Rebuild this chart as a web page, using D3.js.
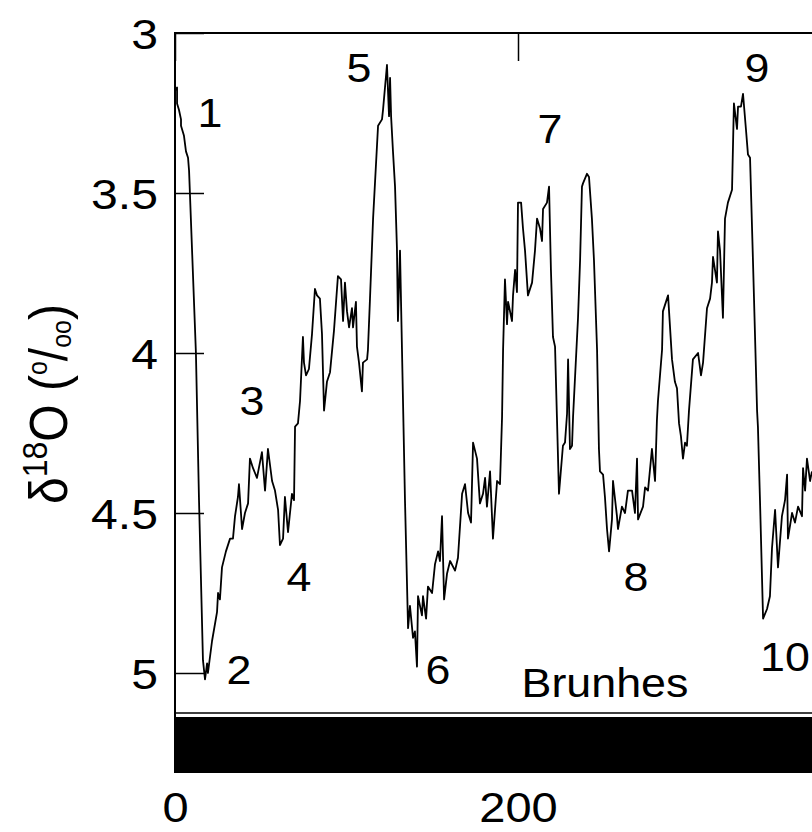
<!DOCTYPE html>
<html>
<head>
<meta charset="utf-8">
<script src="https://cdn.jsdelivr.net/npm/d3@7"></script>
<style>
  html, body { margin: 0; padding: 0; background: #fff; }
  svg { display: block; }
  text { font-family: "Liberation Sans", Arial, Helvetica, sans-serif; fill: #000; }
</style>
</head>
<body>
<svg id="chart" width="812" height="832"></svg>
<script>
// ---- data (age in ka, δ18O in per mil) ----
const ages = [0,1.2,1.2,2.3,3.5,3.5,5.2,6.4,7.6,8.2,12.2,14.0,16.3,17.5,18.7,19.2,21.6,24.5,25.1,26.2,27.4,29.7,32.1,33.8,35.0,36.7,37.3,39.1,40.8,42.6,43.7,45.5,47.8,50.7,52.5,54.2,56.6,58.3,60.1,61.2,63.0,64.1,65.9,68.2,69.4,70.0,71.7,72.9,74.6,75.2,76.4,78.1,79.9,81.6,82.8,84.5,85.7,86.9,88.6,90.4,92.7,95.0,96.8,98.0,99.1,100.3,101.5,103.2,103.8,105.5,106.1,107.3,109.0,109.6,112.0,112.5,113.7,115.5,118.4,120.7,121.3,123.6,124.8,125.4,126.0,127.1,128.3,129.4,130.0,131.2,134.1,135.9,137.0,138.8,139.9,141.1,141.7,144.0,144.6,146.4,147.5,149.9,151.6,153.4,154.5,155.7,156.9,158.6,160.4,163.3,165.0,167.4,169.1,170.9,172.6,173.8,176.1,177.8,179.6,180.8,181.9,183.7,185.4,187.8,189.5,190.7,191.3,192.4,193.6,194.2,196.5,197.1,198.3,199.4,200.0,201.8,202.9,204.1,205.8,208.2,209.9,211.1,212.8,214.0,214.6,216.9,218.1,219.2,220.4,221.6,222.7,223.9,226.2,227.4,228.6,229.2,230.3,231.5,232.1,235.0,236.2,237.3,237.9,240.2,241.4,243.1,244.3,246.1,247.2,247.8,249.6,250.7,251.9,253.1,254.8,255.4,257.7,258.3,260.6,262.4,264.1,266.5,268.2,269.4,270.0,272.9,274.1,275.8,278.1,279.9,281.0,281.6,284.0,284.5,287.5,289.8,291.5,292.7,293.9,295.0,296.2,297.4,298.5,299.7,302.0,305.0,306.7,307.9,310.2,312.0,313.1,313.7,316.0,316.6,317.8,319.5,320.7,322.4,324.8,325.9,327.7,328.3,330.0,331.2,332.9,334.1,335.3,337.0,339.4,339.9,341.1,342.9,345.2,346.9,348.1,349.9,351.6,353.9,355.7,356.9,357.4,359.8,361.5,363.3,365.6,366.2,367.4,368.5,370.3,371.4];
const d18O = [3.18,3.17,3.22,3.24,3.27,3.29,3.32,3.37,3.39,3.43,4.00,4.46,4.96,5.02,4.97,5.00,4.90,4.81,4.75,4.77,4.67,4.62,4.58,4.58,4.51,4.45,4.41,4.55,4.50,4.47,4.33,4.36,4.39,4.31,4.43,4.30,4.40,4.43,4.49,4.60,4.58,4.45,4.56,4.44,4.46,4.23,4.22,4.15,3.95,4.03,4.07,4.05,3.94,3.80,3.82,3.83,3.94,4.18,4.09,4.06,3.93,3.76,3.77,3.90,3.78,3.87,3.92,3.86,3.92,3.84,3.98,4.03,4.12,4.03,4.02,3.99,3.83,3.58,3.29,3.27,3.24,3.10,3.26,3.14,3.26,3.37,3.48,3.67,3.90,3.68,4.46,4.86,4.79,4.89,4.87,4.98,4.76,4.82,4.76,4.83,4.73,4.75,4.66,4.62,4.65,4.51,4.77,4.69,4.65,4.68,4.64,4.44,4.41,4.50,4.53,4.28,4.33,4.47,4.44,4.39,4.48,4.37,4.58,4.40,4.41,4.20,3.99,3.77,3.91,3.84,3.90,3.82,3.74,3.81,3.53,3.53,3.61,3.68,3.82,3.78,3.68,3.58,3.61,3.65,3.55,3.53,3.48,3.74,3.95,3.98,4.20,4.44,4.29,4.28,4.19,4.02,4.30,4.29,4.20,3.89,3.71,3.48,3.47,3.44,3.45,3.58,3.71,3.99,4.30,4.37,4.38,4.45,4.55,4.62,4.52,4.40,4.51,4.55,4.48,4.50,4.43,4.43,4.50,4.33,4.52,4.48,4.42,4.43,4.30,4.40,4.21,4.15,3.99,3.87,3.82,4.02,4.09,4.11,4.22,4.26,4.33,4.28,4.29,4.18,4.02,4.00,4.07,4.03,3.86,3.83,3.78,3.70,3.78,3.62,3.68,3.89,3.58,3.53,3.49,3.22,3.30,3.23,3.23,3.19,3.30,3.38,3.39,3.71,4.18,4.23,4.46,4.83,4.80,4.76,4.61,4.49,4.67,4.51,4.46,4.38,4.58,4.50,4.53,4.48,4.51,4.36,4.43,4.33,4.40,4.37];

const yTicks = [3, 3.5, 4, 4.5, 5];
const yTickLabels = ["3", "3.5", "4", "4.5", "5"];
const xTicks = [0, 200];
const xTickLabels = ["0", "200"];

// marine isotope stage labels
const stageLabels = ["1","2","3","4","5","6","7","8","9","10"];
const stageAges   = [20.4, 37.3, 44.9, 72.3, 107.3, 153.4, 218.7, 268.8, 339.4, 355.7];
const stageValues = [3.25, 4.99, 4.15, 4.70, 3.11, 4.99, 3.30, 4.70, 3.11, 4.95];

// magnetic polarity chrons (normal = black)
const chronNames = ["Brunhes"];
const chronStart = [0];
const chronEnd   = [780];
const chronLabelAge = [250.7];

// ---- layout ----
const svg = d3.select("#chart");
const leftX = 175, topY = 33;
const SX = 1.12; // horizontal glyph stretch seen in the original
const x = d3.scaleLinear().domain([0, 400]).range([leftX, leftX + 400 * 1.715]);
const y = d3.scaleLinear().domain([3, 5]).range([topY, 673]);
const plotBottom = 713;
const barTop = 717, barBottom = 773;
const W = 812;

svg.append("defs").append("clipPath").attr("id", "clip")
  .append("rect").attr("x", leftX).attr("y", topY).attr("width", W - leftX + 50).attr("height", plotBottom - topY);

// polarity bar
svg.selectAll("rect.chron").data(chronNames).enter().append("rect")
  .attr("class", "chron")
  .attr("x", (d, i) => x(chronStart[i]))
  .attr("y", barTop)
  .attr("width", (d, i) => x(chronEnd[i]) - x(chronStart[i]))
  .attr("height", barBottom - barTop)
  .attr("fill", "#000");

// frame
svg.append("line").attr("x1", leftX).attr("x2", W + 10).attr("y1", topY).attr("y2", topY)
  .attr("stroke", "#000").attr("stroke-width", 2);
svg.append("line").attr("x1", leftX).attr("x2", W + 10).attr("y1", plotBottom).attr("y2", plotBottom)
  .attr("stroke", "#000").attr("stroke-width", 1.5);
svg.append("line").attr("x1", leftX).attr("x2", leftX).attr("y1", topY - 1).attr("y2", barBottom)
  .attr("stroke", "#000").attr("stroke-width", 2);

// y axis (ticks inward)
const yAxis = d3.axisLeft(y).tickValues(yTicks)
  .tickFormat((d, i) => yTickLabels[i]).tickSize(-29).tickPadding(17);
const gy = svg.append("g").attr("transform", `translate(${leftX},0)`).call(yAxis);
gy.select(".domain").remove();
gy.selectAll(".tick line").attr("stroke", "#000").attr("stroke-width", 1.5);
gy.selectAll(".tick text")
  .attr("x", -17 / SX).attr("dy", "0.35em").attr("transform", `scale(${SX},1)`)
  .style("font-size", "43px").style("font-family", "'Liberation Sans', Arial, sans-serif");

// top x ticks (inward)
const xAxisTop = d3.axisTop(x).tickValues(xTicks).tickFormat("").tickSize(-28);
const gxt = svg.append("g").attr("transform", `translate(0,${topY})`).call(xAxisTop);
gxt.select(".domain").remove();
gxt.selectAll(".tick line").attr("stroke", "#000").attr("stroke-width", 1.5);

// bottom x labels
const xAxisBottom = d3.axisBottom(x).tickValues(xTicks)
  .tickFormat((d, i) => xTickLabels[i]).tickSize(0).tickPadding(0);
const gxb = svg.append("g").attr("transform", `translate(0,${barBottom})`).call(xAxisBottom);
gxb.select(".domain").remove();
gxb.selectAll(".tick text").attr("y", 49).attr("dy", 0).attr("transform", `scale(${SX},1)`)
  .style("font-size", "42px").style("font-family", "'Liberation Sans', Arial, sans-serif");

// data line
const pts = ages.map((a, i) => [a, d18O[i]]);
svg.append("path")
  .attr("clip-path", "url(#clip)")
  .attr("d", d3.line().x(d => x(d[0])).y(d => y(d[1]))(pts))
  .attr("fill", "none").attr("stroke", "#000").attr("stroke-width", 1.8)
  .attr("stroke-linejoin", "round");

// stage labels
svg.selectAll("text.stage").data(stageLabels).enter().append("text")
  .attr("class", "stage")
  .attr("transform", (d, i) => `translate(${x(stageAges[i])},${y(stageValues[i])}) scale(${SX},1)`)
  .attr("dy", "0.35em")
  .attr("text-anchor", "middle")
  .style("font-size", "40px")
  .text(d => d);

// chron label
svg.selectAll("text.chronlabel").data(chronNames).enter().append("text")
  .attr("class", "chronlabel")
  .attr("transform", (d, i) => `translate(${x(chronLabelAge[i])},697) scale(${SX},1)`)
  .attr("text-anchor", "middle")
  .style("font-size", "40px")
  .text(d => d);

// y title: δ18O (‰ drawn as o/oo)
const title = svg.append("text")
  .attr("transform", `translate(67,404) scale(${SX},1) rotate(-90)`)
  .attr("text-anchor", "middle")
  .style("font-size", "48px");
title.append("tspan").text("δ");
title.append("tspan").attr("dy", -18).style("font-size", "32px").text("18");
title.append("tspan").attr("dy", 18).text("O (");
title.append("tspan").attr("dy", -18).style("font-size", "25px").text("o");
title.append("tspan").attr("dy", 18).text("/");
title.append("tspan").attr("dy", 4).style("font-size", "25px").text("oo");
title.append("tspan").attr("dy", -4).text(")");
</script>
</body>
</html>
